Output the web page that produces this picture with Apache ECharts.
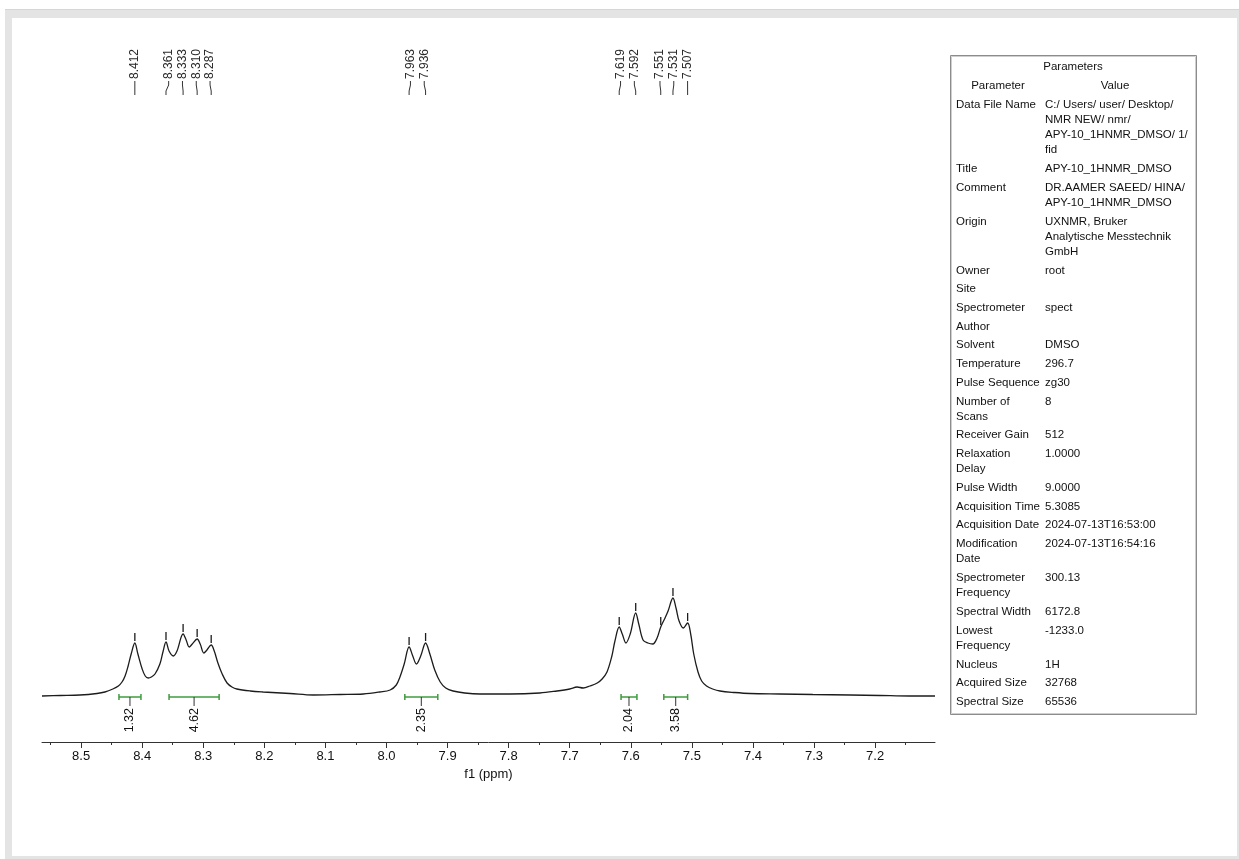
<!DOCTYPE html>
<html>
<head>
<meta charset="utf-8">
<title>APY-10 1H NMR (DMSO)</title>
<script src="https://cdn.jsdelivr.net/npm/echarts@6.0.0/dist/echarts.min.js"></script>
<style>
  html, body { margin: 0; padding: 0; background: #ffffff; }
  #chart { width: 1239px; height: 859px; }
</style>
</head>
<body>
<div id="chart"></div>
<script>
// ---- Spectrum trace: chemical shift (ppm) and intensity (a.u.) ----
const shiftPpm = [
  8.564, 8.534, 8.502, 8.474, 8.461, 8.448, 8.439, 8.433, 8.428, 8.423, 8.418,
  8.412, 8.407, 8.400, 8.395, 8.390, 8.385, 8.379, 8.371, 8.366, 8.361, 8.356,
  8.349, 8.343, 8.333, 8.328, 8.323, 8.318, 8.310, 8.305, 8.299, 8.294, 8.287,
  8.282, 8.276, 8.269, 8.261, 8.253, 8.245, 8.223, 8.202, 8.158, 8.120, 8.076,
  8.038, 8.011, 7.994, 7.984, 7.978, 7.971, 7.963, 7.957, 7.951, 7.944, 7.936,
  7.929, 7.921, 7.912, 7.903, 7.891, 7.872, 7.847, 7.798, 7.749, 7.721, 7.700,
  7.688, 7.678, 7.667, 7.655, 7.647, 7.639, 7.631, 7.626, 7.619, 7.614, 7.608,
  7.601, 7.592, 7.587, 7.580, 7.572, 7.564, 7.557, 7.551, 7.544, 7.539, 7.531,
  7.526, 7.521, 7.514, 7.507, 7.502, 7.497, 7.490, 7.484, 7.476, 7.466, 7.454,
  7.430, 7.405, 7.356, 7.302, 7.241, 7.192, 7.143, 7.102
];
const intensity = [
  0, 0.5, 1, 2.5, 4, 7, 10, 14, 20, 30, 42,
  53, 42, 27, 20, 18, 19, 22, 32, 44, 54, 45,
  40, 45, 62, 56, 49, 52, 57, 52, 43, 46, 51,
  45, 33, 22, 13, 9, 7, 5, 4, 2.5, 1, 1.5,
  2, 4, 6, 11, 19, 32, 49, 40, 32, 40, 53,
  42, 26, 14, 8, 5, 3, 2, 2, 3, 5, 7,
  9, 8, 10, 13, 17, 24, 40, 55, 69, 62, 53,
  62, 83, 72, 56, 53, 52, 58, 69, 78, 85, 98,
  88, 75, 68, 73, 62, 42, 24, 15, 10, 7, 5,
  3.5, 2.5, 2, 1.5, 1, 0.5, 0, 0
];

// ---- Picked peaks (ppm) ----
const peakPpm = [8.412, 8.361, 8.333, 8.310, 8.287, 7.963, 7.936, 7.619, 7.592, 7.551, 7.531, 7.507];

// ---- Integral regions ----
const integralFrom = [8.438, 8.356, 7.970, 7.616, 7.546];
const integralTo = [8.402, 8.274, 7.916, 7.590, 7.507];
const integralValues = [1.32, 4.62, 2.35, 2.04, 3.58];

// ---- Axis ticks ----
const majorTicks = [8.5, 8.4, 8.3, 8.2, 8.1, 8.0, 7.9, 7.8, 7.7, 7.6, 7.5, 7.4, 7.3, 7.2];
const minorTicks = [8.55, 8.45, 8.35, 8.25, 8.15, 8.05, 7.95, 7.85, 7.75, 7.65, 7.55, 7.45, 7.35, 7.25, 7.15];

// ---- Acquisition parameters ----
const paramNames = [
  ['Data File Name'], ['Title'], ['Comment'], ['Origin'], ['Owner'], ['Site'],
  ['Spectrometer'], ['Author'], ['Solvent'], ['Temperature'], ['Pulse Sequence'],
  ['Number of', 'Scans'], ['Receiver Gain'], ['Relaxation', 'Delay'], ['Pulse Width'],
  ['Acquisition Time'], ['Acquisition Date'], ['Modification', 'Date'],
  ['Spectrometer', 'Frequency'], ['Spectral Width'], ['Lowest', 'Frequency'],
  ['Nucleus'], ['Acquired Size'], ['Spectral Size']
];
const paramValues = [
  ['C:/ Users/ user/ Desktop/', 'NMR NEW/ nmr/', 'APY-10_1HNMR_DMSO/ 1/', 'fid'],
  ['APY-10_1HNMR_DMSO'],
  ['DR.AAMER SAEED/ HINA/', 'APY-10_1HNMR_DMSO'],
  ['UXNMR, Bruker', 'Analytische Messtechnik', 'GmbH'],
  ['root'], [''], ['spect'], [''], ['DMSO'], ['296.7'], ['zg30'], ['8'], ['512'],
  ['1.0000'], ['9.0000'], ['5.3085'], ['2024-07-13T16:53:00'], ['2024-07-13T16:54:16'],
  ['300.13'], ['6172.8'], ['-1233.0'], ['1H'], ['32768'], ['65536']
];

const FONT = '"Liberation Sans", Arial, sans-serif';
const TEXT_COLOR = '#111111';
const INTEGRAL_GREEN = '#3f9b3f';

const spectrum = shiftPpm.map((p, i) => [p, intensity[i]]);

function intensityAt(ppm) {
  let best = 0, bestD = Infinity;
  for (let i = 0; i < shiftPpm.length; i++) {
    const d = Math.abs(shiftPpm[i] - ppm);
    if (d < bestD) { bestD = d; best = intensity[i]; }
  }
  return best;
}

// Spread peak labels: neighbouring peaks form a group, labels evenly spaced around the group centre.
function labelPositions(xs) {
  const order = xs.map((x, i) => i).sort((a, b) => xs[a] - xs[b]);
  const out = new Array(xs.length);
  const spacing = 13.8, joinGap = 25;
  let group = [order[0]];
  const flush = () => {
    const mean = group.reduce((s, i) => s + xs[i], 0) / group.length;
    group.forEach((idx, k) => { out[idx] = mean + (k - (group.length - 1) / 2) * spacing; });
  };
  for (let k = 1; k < order.length; k++) {
    const prev = order[k - 1], cur = order[k];
    if (xs[cur] - xs[prev] < joinGap) group.push(cur);
    else { flush(); group = [cur]; }
  }
  flush();
  return out;
}

// Parameter table as graphic elements
function buildTable() {
  const els = [];
  const left = 950, top = 55, width = 246, height = 659;
  els.push({ type: 'rect', shape: { x: left + 0.5, y: top + 0.5, width: width, height: height },
    style: { fill: '#ffffff', stroke: '#8c8c8c', lineWidth: 1 }, z: 10 });
  els.push({ type: 'rect', shape: { x: left + 1.5, y: top + 1.5, width: width - 2, height: height - 2 },
    style: { fill: null, stroke: '#cfcfcf', lineWidth: 1 }, z: 10 });
  const txt = (s, x, y, align) => ({
    type: 'text', x: x, y: y, z: 11,
    style: { text: s, fill: TEXT_COLOR, font: '11.5px ' + FONT, align: align || 'left', verticalAlign: 'middle' }
  });
  els.push(txt('Parameters', left + width / 2, 67, 'center'));
  els.push(txt('Parameter', 998, 86, 'center'));
  els.push(txt('Value', 1115, 86, 'center'));
  const col1 = 956, col2 = 1045, lineGap = 15.2, rowGap = 18.7;
  let y = 104.5;
  paramNames.forEach((names, r) => {
    const vals = paramValues[r];
    names.forEach((s, k) => els.push(txt(s, col1, y + k * lineGap)));
    vals.forEach((s, k) => { if (s) els.push(txt(s, col2, y + k * lineGap)); });
    const n = Math.max(names.length, vals.length);
    y += (n - 1) * lineGap + rowGap;
  });
  return els;
}

const chart = echarts.init(document.getElementById('chart'), null, { renderer: 'canvas' });

const option = {
  animation: false,
  backgroundColor: '#ffffff',
  grid: { left: 42, right: 304, top: 96, bottom: 117, containLabel: false },
  xAxis: [
    {
      type: 'value', inverse: true, min: 7.102, max: 8.564, position: 'bottom',
      name: 'f1 (ppm)', nameLocation: 'middle', nameGap: 22,
      nameTextStyle: { color: TEXT_COLOR, fontSize: 13, fontFamily: FONT },
      axisLine: { show: true, onZero: false, lineStyle: { color: '#333333', width: 1 } },
      axisTick: { show: true, customValues: majorTicks, length: 6, inside: false, lineStyle: { color: '#333333' } },
      axisLabel: { show: true, customValues: majorTicks, margin: 8, color: TEXT_COLOR, fontSize: 13, fontFamily: FONT,
        formatter: v => v.toFixed(1) },
      splitLine: { show: false }
    },
    {
      type: 'value', inverse: true, min: 7.102, max: 8.564, position: 'bottom', gridIndex: 0,
      axisLine: { show: false, onZero: false },
      axisTick: { show: true, customValues: minorTicks, length: 3, lineStyle: { color: '#333333' } },
      axisLabel: { show: false },
      splitLine: { show: false }
    }
  ],
  yAxis: { type: 'value', min: -46, max: 600, show: false },
  graphic: [
    // page frame
    { type: 'rect', z: 0, silent: true, shape: { x: 5, y: 9, width: 1234, height: 850 }, style: { fill: '#e4e4e4' } },
    { type: 'rect', z: 0, silent: true, shape: { x: 5, y: 9, width: 1234, height: 1 }, style: { fill: '#d6d6d6' } },
    { type: 'rect', z: 0, silent: true, shape: { x: 12, y: 18, width: 1225, height: 838 }, style: { fill: '#ffffff' } }
  ].concat(buildTable()),
  series: [
    {
      type: 'line', xAxisIndex: 0, data: spectrum, showSymbol: false, smooth: 0.35,
      lineStyle: { color: '#1c1c1c', width: 1.3 }, z: 5, silent: true
    },
    {
      // integral bars with values below the baseline
      type: 'custom', xAxisIndex: 0, z: 6, silent: true,
      data: integralFrom.map((f, i) => [f, integralTo[i], integralValues[i]]),
      renderItem: function (params, api) {
        const a = api.coord([api.value(0), 0]);
        const b = api.coord([api.value(1), 0]);
        const y = a[1] + 1;
        const cx = (a[0] + b[0]) / 2;
        const ls = { stroke: INTEGRAL_GREEN, lineWidth: 1.5 };
        return {
          type: 'group',
          children: [
            { type: 'line', shape: { x1: a[0], y1: y, x2: b[0], y2: y }, style: ls },
            { type: 'line', shape: { x1: a[0], y1: y - 3, x2: a[0], y2: y + 3 }, style: ls },
            { type: 'line', shape: { x1: b[0], y1: y - 3, x2: b[0], y2: y + 3 }, style: ls },
            { type: 'line', shape: { x1: cx, y1: y, x2: cx, y2: y + 9 }, style: { stroke: '#333333', lineWidth: 1 } },
            { type: 'text', x: cx, y: y + 11, rotation: Math.PI / 2,
              style: { text: api.value(2).toFixed(2), fill: TEXT_COLOR, font: '12.5px ' + FONT,
                align: 'right', verticalAlign: 'middle' } }
          ]
        };
      }
    },
    {
      // peak markers and rotated shift labels along the top
      type: 'custom', xAxisIndex: 0, z: 6, silent: true,
      data: peakPpm.map(p => [p, intensityAt(p)]),
      renderItem: function (params, api) {
        const xs = peakPpm.map(p => api.coord([p, 0])[0]);
        const lx = labelPositions(xs)[params.dataIndex];
        const top = api.coord([api.value(0), api.value(1)]);
        const px = top[0];
        const lineStyle = { stroke: '#333333', lineWidth: 1 };
        return {
          type: 'group',
          children: [
            { type: 'line', shape: { x1: px, y1: top[1] - 10, x2: px, y2: top[1] - 2 },
              style: { stroke: '#1c1c1c', lineWidth: 1.3 } },
            { type: 'polyline', shape: { points: [[lx, 81], [lx, 85], [px, 91], [px, 95]] },
              style: Object.assign({ fill: null }, lineStyle) },
            { type: 'text', x: lx, y: 79, rotation: Math.PI / 2,
              style: { text: api.value(0).toFixed(3), fill: '#2a2a2a', font: '12px ' + FONT,
                align: 'left', verticalAlign: 'middle' } }
          ]
        };
      }
    }
  ]
};

chart.setOption(option);
</script>
</body>
</html>
